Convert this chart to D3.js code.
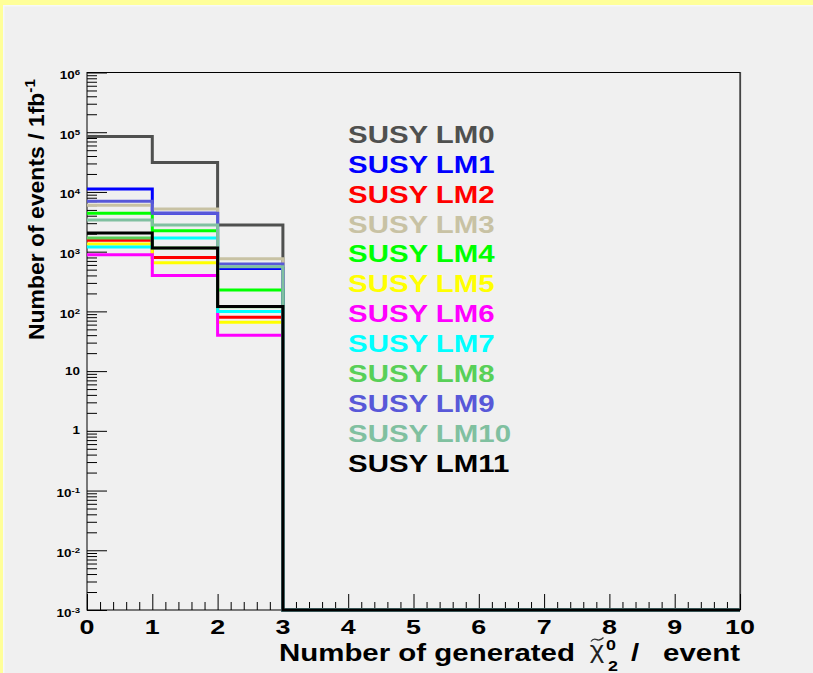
<!DOCTYPE html>
<html><head><meta charset="utf-8">
<script src="https://cdn.jsdelivr.net/npm/d3@7"></script>
<style>html,body{margin:0;padding:0;background:#ffff99;} svg{display:block;}</style>
</head><body>
<svg id="c" width="813" height="673"></svg>
<script>
// ---------- data ----------
const binEdges = [0,1,2,3,4,5,6,7,8,9,10];
const seriesNames = ["SUSY LM0","SUSY LM1","SUSY LM2","SUSY LM3","SUSY LM4","SUSY LM5",
                     "SUSY LM6","SUSY LM7","SUSY LM8","SUSY LM9","SUSY LM10","SUSY LM11"];
const seriesColors = ["#4f504f","#0000ff","#ff0000","#c8c2a4","#00ff00","#ffff00",
                      "#ff00ff","#00ffff","#58d058","#5858d8","#80c0a0","#000000"];
const lm0  = [85000, 31000, 2800, 0,0,0,0,0,0,0];
const lm1  = [11200,  4400,  525, 0,0,0,0,0,0,0];
const lm2  = [ 1550,   800,   80, 0,0,0,0,0,0,0];
const lm3  = [ 6000,  5200,  760, 0,0,0,0,0,0,0];
const lm4  = [ 4400,  2250,  228, 0,0,0,0,0,0,0];
const lm5  = [ 1340,   650,   66, 0,0,0,0,0,0,0];
const lm6  = [  890,   400,   40, 0,0,0,0,0,0,0];
const lm7  = [ 1200,  1700,  100, 0,0,0,0,0,0,0];
const lm8  = [ 1700,  1150,  120, 0,0,0,0,0,0,0];
const lm9  = [ 7000,  4400,  620, 0,0,0,0,0,0,0];
const lm10 = [ 3400,  2800,  560, 0,0,0,0,0,0,0];
const lm11 = [ 2050,  1150,  121, 0,0,0,0,0,0,0];
const seriesValues = [lm0,lm1,lm2,lm3,lm4,lm5,lm6,lm7,lm8,lm9,lm10,lm11];
const xTickLabels = ["0","1","2","3","4","5","6","7","8","9","10"];
const yTickValues = [1e-3,1e-2,1e-1,1,10,1e2,1e3,1e4,1e5,1e6];
const yTickBase   = ["10","10","10","1","10","10","10","10","10","10"];
const yTickSup    = ["-3","-2","-1","","","2","3","4","5","6"];

// ---------- drawing ----------
const svg = d3.select("#c");
const FONT = "'Liberation Sans', Arial, Helvetica, sans-serif";
const SX = 1.28;

svg.append("rect").attr("x",0).attr("y",0).attr("width",813).attr("height",673).attr("fill","#ffff99");
svg.append("rect").attr("x",3).attr("y",5).attr("width",810).attr("height",668).attr("fill","#f7f8f8");
svg.append("rect").attr("x",4.5).attr("y",6.5).attr("width",809).attr("height",667).attr("fill","#f0f0f0");

const x = d3.scaleLinear().domain([0,10]).range([87,740]);
const y = d3.scaleLog().domain([1e-3,1e6]).range([610,72.5]);
const YMIN = 1e-3;

// frame
svg.append("rect").attr("x",87).attr("y",72.5).attr("width",740-87).attr("height",610-72.5)
  .attr("fill","none").attr("stroke","#000").attr("stroke-width",1);
svg.append("line").attr("x1",740.5).attr("x2",740.5).attr("y1",72).attr("y2",610)
  .attr("stroke","#444").attr("stroke-width",1.2);

// y axis ticks (inward)
const yMinor = [];
for (let e=-3;e<6;e++) for (let k=2;k<=9;k++) yMinor.push(k*Math.pow(10,e));
const gy = svg.append("g").attr("transform","translate(87,0)");
gy.call(d3.axisLeft(y).tickValues(yMinor).tickSize(-10).tickFormat(""));
gy.append("g").call(d3.axisLeft(y).tickValues(yTickValues).tickSize(-20).tickFormat(""));
gy.selectAll(".domain").remove();
gy.selectAll("line").attr("stroke","#000").attr("stroke-width",1);

// x axis ticks (inward)
const xMinor = d3.range(0,50).map(i=>i*0.2).filter(v=>Math.abs(v-Math.round(v))>1e-6);
const gx = svg.append("g").attr("transform","translate(0,610)");
gx.call(d3.axisBottom(x).tickValues(xMinor).tickSize(-8).tickFormat(""));
gx.append("g").call(d3.axisBottom(x).tickValues(binEdges).tickSize(-16).tickFormat(""));
gx.selectAll(".domain").remove();
gx.selectAll("line").attr("stroke","#000").attr("stroke-width",1);

// histograms
const line = d3.line()
  .x(d=>x(d[0]))
  .y(d=>y(Math.max(d[1],YMIN)))
  .curve(d3.curveStepAfter);
seriesValues.forEach((vals,i)=>{
  const pts = vals.map((v,j)=>[binEdges[j],v]);
  pts.push([binEdges[binEdges.length-1], vals[vals.length-1]]);
  svg.append("path").attr("d",line(pts)).attr("fill","none")
    .attr("stroke",seriesColors[i]).attr("stroke-width",3)
    .attr("stroke-linejoin","miter");
});

function stext(xx,yy,str,size,anchor,color,sx,weight){
  return svg.append("text")
    .attr("transform",`translate(${xx},${yy}) scale(${sx===undefined?SX:sx},1)`)
    .attr("text-anchor",anchor||"start")
    .attr("font-family",FONT).attr("font-weight",weight||"bold")
    .attr("font-size",size).attr("fill",color||"#000").text(str);
}

// x tick labels
xTickLabels.forEach((t,i)=>stext(x(binEdges[i]),634,t,21,"middle"));

// y tick labels
yTickValues.forEach((v,i)=>{
  const ty = y(v);
  if (yTickSup[i]==="") {
    stext(80,ty+3.5,yTickBase[i],10.5,"end");
  } else {
    const t = svg.append("text")
      .attr("transform",`translate(80,${ty+6.5}) scale(${SX},1)`)
      .attr("text-anchor","end").attr("font-family",FONT).attr("font-weight","bold")
      .attr("font-size",10.5).attr("fill","#000");
    t.append("tspan").text(yTickBase[i]);
    t.append("tspan").attr("dy",-4).attr("font-size",7.5).text(yTickSup[i]);
  }
});

// legend
seriesNames.forEach((n,i)=>stext(348,142.7+29.94*i,n,23,"start",seriesColors[i]));

// x title
stext(279,661,"Number of generated",23,"start");
stext(597,658,"\u03c7",24,"middle","#222",1.15,"normal");
// tilde accent over chi
const tp = d3.path();
tp.moveTo(591,641.5);
tp.bezierCurveTo(594,636.5,597,640.5,599,640);
tp.bezierCurveTo(601,639.5,602.5,638.5,603.5,637.5);
svg.append("path").attr("d",tp.toString()).attr("fill","none").attr("stroke","#333").attr("stroke-width",1.3);
stext(611,650,"0",14,"middle");
stext(613,671,"2",14,"middle");
stext(635,661,"/",23,"middle");
stext(740,661,"event",23,"end");

// y title
const yt = svg.append("text")
  .attr("transform","translate(44,340) rotate(-90) scale(1.02,1)")
  .attr("font-family",FONT).attr("font-weight","bold").attr("font-size",22.5).attr("fill","#000");
yt.append("tspan").text("Number of events / 1fb");
yt.append("tspan").attr("dy",-9).attr("font-size",15).text("-1");
</script>
</body></html>
